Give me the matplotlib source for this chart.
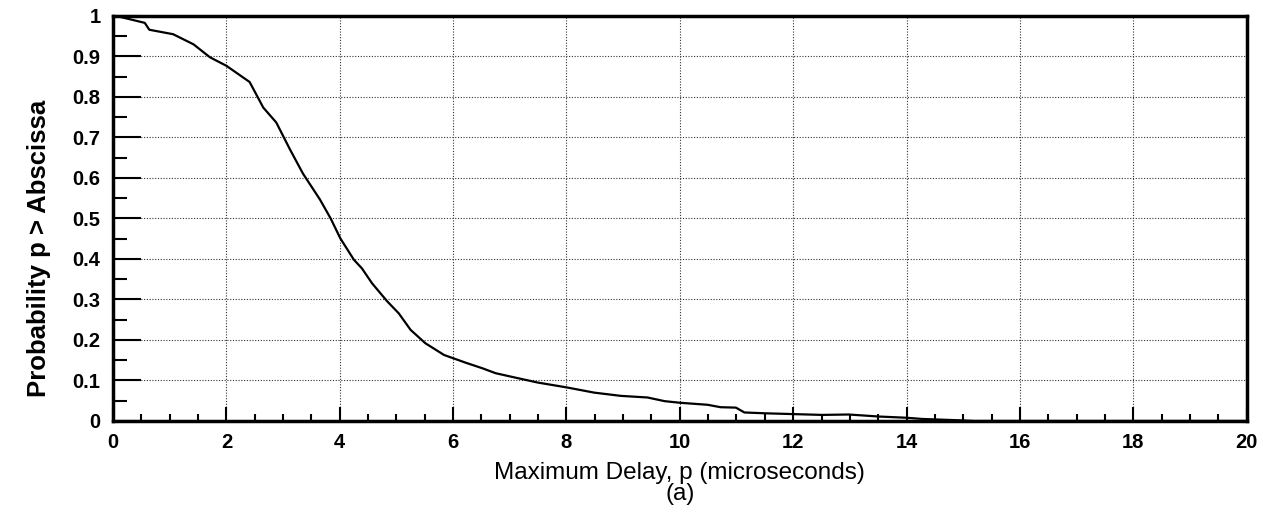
import matplotlib.pyplot as plt
import numpy as np
from matplotlib.ticker import MultipleLocator

# complementary distribution of the maximum delay
delay = [0.0, 0.06, 0.56, 0.64, 1.06, 1.42, 1.71, 2.0, 2.41, 2.65, 2.88, 3.0,
         3.12, 3.35, 3.65, 3.84, 4.01, 4.25, 4.39, 4.57, 4.84, 5.04, 5.25,
         5.51, 5.84, 6.0, 6.22, 6.52, 6.75, 7.1, 7.49, 8.0, 8.49, 8.96, 9.43,
         9.73, 10.0, 10.49, 10.72, 10.99, 11.14, 11.5, 12.0, 12.51, 12.98,
         13.51, 14.0, 14.28, 14.87, 15.2, 20.0]
prob = [1.0, 1.0, 0.983, 0.966, 0.955, 0.93, 0.898, 0.877, 0.837, 0.774,
        0.737, 0.704, 0.671, 0.611, 0.547, 0.5, 0.451, 0.398, 0.377, 0.34,
        0.295, 0.266, 0.225, 0.192, 0.163, 0.155, 0.144, 0.13, 0.118, 0.107,
        0.095, 0.083, 0.07, 0.062, 0.058, 0.049, 0.045, 0.04, 0.034, 0.033,
        0.021, 0.019, 0.017, 0.015, 0.016, 0.011, 0.008, 0.005, 0.002, 0.0,
        0.0]

plt.rcParams['font.family'] = ['Liberation Sans', 'DejaVu Sans']

fig = plt.figure(figsize=(12.63, 5.24), dpi=100)
ax = fig.add_axes([0.0895, 0.1966, 0.8975, 0.7729])

ax.plot(delay, prob, color='black', linewidth=1.6)

ax.set_xlim(0, 20)
ax.set_ylim(0, 1)
ax.xaxis.set_major_locator(MultipleLocator(2))
ax.xaxis.set_minor_locator(MultipleLocator(0.5))
ax.yaxis.set_minor_locator(MultipleLocator(0.05))
ax.set_yticks(np.arange(0, 1.01, 0.1))
ax.set_yticklabels(['0'] + [f'{v:.1f}' for v in np.arange(0.1, 0.95, 0.1)] + ['1'])

ax.grid(True, which='major', color='#333333', linestyle=(0, (1, 1.5)), linewidth=0.8)

ax.tick_params(axis='y', which='major', direction='in', length=20, width=1.5)
ax.tick_params(axis='y', which='minor', direction='in', length=10, width=1.5)
ax.tick_params(axis='x', which='major', direction='in', length=10, width=1.5)
ax.tick_params(axis='x', which='minor', direction='in', length=5, width=1.5)
ax.tick_params(axis='both', which='both', pad=9, labelsize=14.5)
for lbl in ax.get_xticklabels() + ax.get_yticklabels():
    lbl.set_fontweight('bold')

for side in ['left', 'bottom', 'top', 'right']:
    ax.spines[side].set_linewidth(2.5)

ax.set_xlabel('Maximum Delay, p (microseconds)\n(a)', fontsize=17.5, labelpad=7,
              linespacing=0.95)
ax.set_ylabel('Probability p > Abscissa', fontsize=18.5, fontweight='bold')
ax.yaxis.set_label_coords(-0.0545, 0.427)

fig.savefig('out.png', dpi=100)
